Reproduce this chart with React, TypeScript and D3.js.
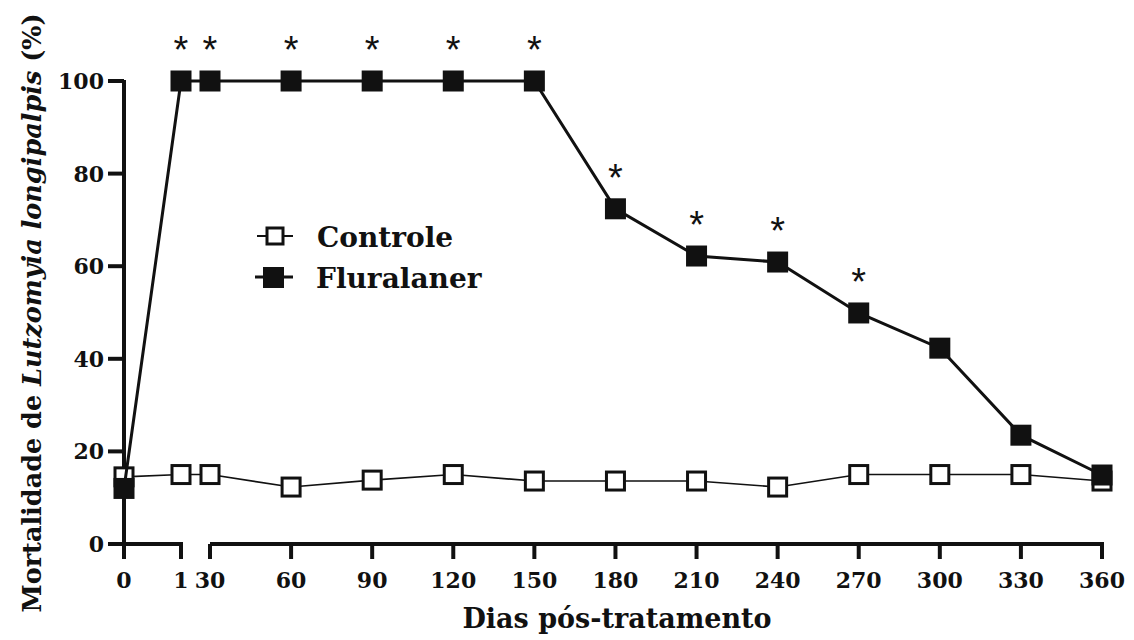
import React from 'react';
import * as d3 from 'd3';

// Days after treatment and mortality (%) per group
const days = [0, 1, 30, 60, 90, 120, 150, 180, 210, 240, 270, 300, 330, 360];
const controle = [14.5, 15, 15, 12.3, 13.8, 15, 13.6, 13.6, 13.6, 12.3, 15, 15, 15, 13.6];
const fluralaner = [12, 100, 100, 100, 100, 100, 100, 72.4, 62.2, 60.9, 49.9, 42.3, 23.5, 14.9];
// Days where the difference between groups is significant
const significantDays = [1, 30, 60, 90, 120, 150, 180, 210, 240, 270];
const yTicks = [0, 20, 40, 60, 80, 100];
// Broken x axis: the first segment covers day 0–1, the second 30–360
const axisSegments: [number, number][] = [[0, 1], [30, 360]];

const W = 1134;
const H = 640;
const serif = "'DejaVu Serif', serif";

export default function App() {
  // piecewise scale: stretched first day, then regular 30-day steps
  const x = d3.scaleLinear().domain([0, 1, 30, 360]).range([124, 181, 210, 1102]);
  const y = d3.scaleLinear().domain([0, 100]).range([544, 81]);

  const line = d3
    .line<number>()
    .x((_, i) => x(days[i]))
    .y((d) => y(d));

  const ctrlSize = 18;
  const fluSize = 21;

  return (
    <svg
      width={W}
      height={H}
      style={{ position: 'absolute', left: 0, top: 0, background: '#fff' }}
      fontFamily={serif}
    >
      {/* y axis */}
      <line x1={x(0)} x2={x(0)} y1={y(100) - 1} y2={y(0)} stroke="#111" strokeWidth={4} />
      {yTicks.map((t) => (
        <g key={t}>
          <line x1={x(0) - 16} x2={x(0)} y1={y(t)} y2={y(t)} stroke="#111" strokeWidth={4} />
          <text
            x={x(0) - 20}
            y={y(t)}
            dy="0.36em"
            textAnchor="end"
            fontSize={22}
            fontWeight="bold"
            fill="#111"
          >
            {t}
          </text>
        </g>
      ))}

      {/* x axis with break */}
      {axisSegments.map(([a, b]) => (
        <line key={a} x1={x(a)} x2={x(b) + 2} y1={y(0)} y2={y(0)} stroke="#111" strokeWidth={4} />
      ))}
      {days.map((d) => (
        <g key={d}>
          <line x1={x(d)} x2={x(d)} y1={y(0)} y2={y(0) + 15} stroke="#111" strokeWidth={4} />
          <text
            x={x(d)}
            y={588}
            textAnchor="middle"
            fontSize={22}
            fontWeight="bold"
            fill="#111"
          >
            {d}
          </text>
        </g>
      ))}

      {/* Controle series */}
      <path d={line(controle) ?? ''} fill="none" stroke="#111" strokeWidth={1.6} />
      {controle.map((v, i) => (
        <rect
          key={i}
          x={x(days[i]) - ctrlSize / 2}
          y={y(v) - ctrlSize / 2}
          width={ctrlSize}
          height={ctrlSize}
          fill="#fff"
          stroke="#111"
          strokeWidth={3}
        />
      ))}

      {/* Fluralaner series */}
      <path d={line(fluralaner) ?? ''} fill="none" stroke="#111" strokeWidth={3} />
      {fluralaner.map((v, i) => (
        <rect
          key={i}
          x={x(days[i]) - fluSize / 2}
          y={y(v) - fluSize / 2}
          width={fluSize}
          height={fluSize}
          fill="#111"
        />
      ))}

      {/* significance marks */}
      {significantDays.map((d) => {
        const i = days.indexOf(d);
        return (
          <text
            key={d}
            x={x(d)}
            y={y(fluralaner[i]) - 18}
            textAnchor="middle"
            fontFamily="'Liberation Sans', Arial, sans-serif"
            fontSize={38}
            fill="#111"
          >
            *
          </text>
        );
      })}

      {/* legend */}
      <g>
        <line x1={257} x2={293} y1={236} y2={236} stroke="#111" strokeWidth={2} />
        <rect x={267} y={228} width={16} height={16} fill="#fff" stroke="#111" strokeWidth={3} />
        <text x={317} y={247} fontSize={28} fontWeight="bold" fill="#111">
          Controle
        </text>
        <line x1={255} x2={293} y1={277} y2={277} stroke="#111" strokeWidth={3} />
        <rect x={263} y={267} width={21} height={21} fill="#111" />
        <text x={316} y={288} fontSize={28} fontWeight="bold" fill="#111">
          Fluralaner
        </text>
      </g>

      {/* axis titles */}
      <text x={617} y={628} textAnchor="middle" fontSize={27} fontWeight="bold" fill="#111">
        Dias pós-tratamento
      </text>
      <text
        transform="translate(41,313) rotate(-90)"
        textAnchor="middle"
        fontSize={25.5}
        fontWeight="bold"
        fill="#111"
      >
        Mortalidade de <tspan fontStyle="italic">Lutzomyia longipalpis</tspan> (%)
      </text>
    </svg>
  );
}
